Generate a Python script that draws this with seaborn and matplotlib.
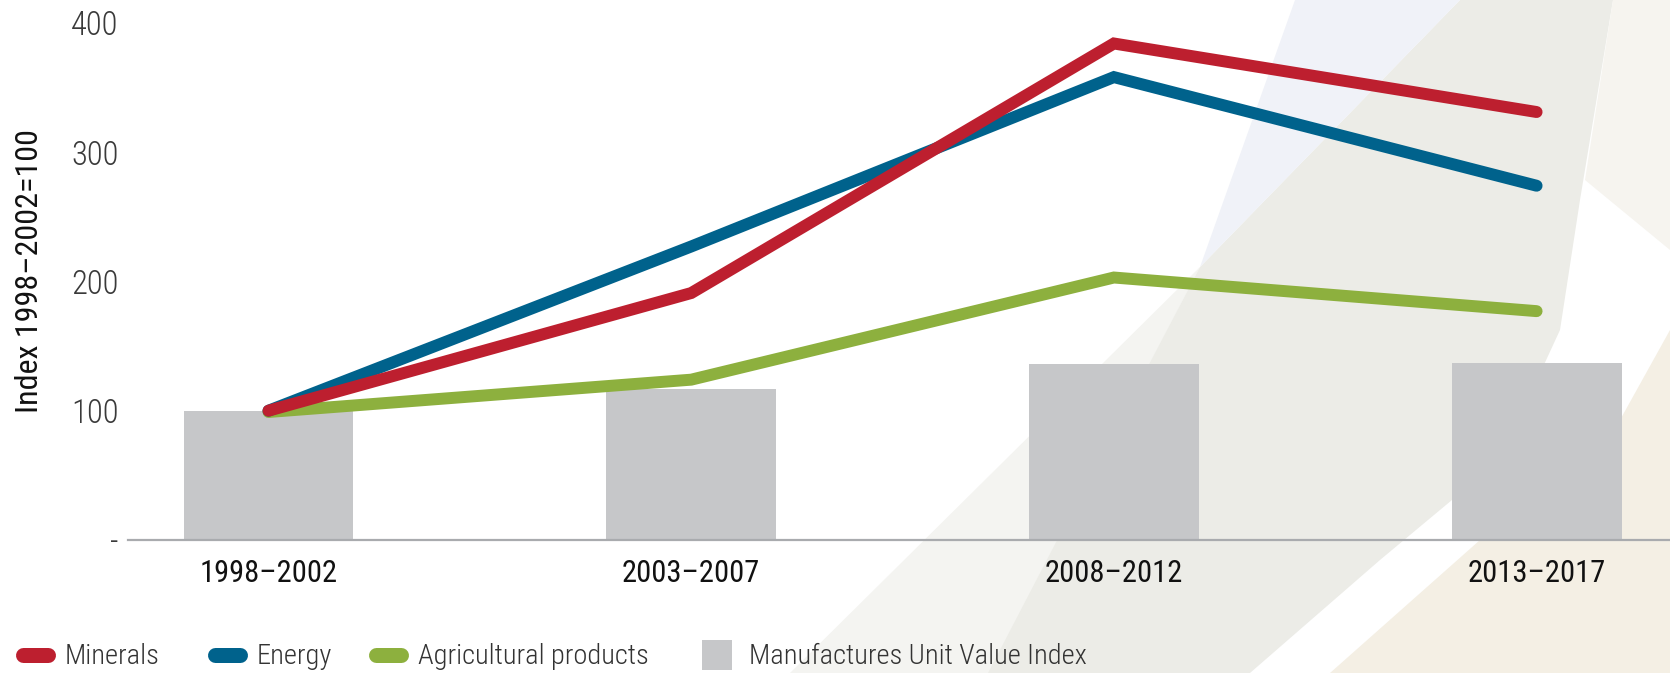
import matplotlib
matplotlib.use("Agg")
import matplotlib.pyplot as plt
from matplotlib.lines import Line2D
from matplotlib.patches import Polygon
import seaborn as sns
import pandas as pd

# ---- data -------------------------------------------------------------
periods = ["1998–2002", "2003–2007", "2008–2012", "2013–2017"]
minerals = [100, 191, 384, 331]
energy = [100, 227, 358, 274]
agricultural = [99, 124, 203, 177]
manufactures = [100, 117, 136, 137]

y_ticks = [0, 100, 200, 300, 400]
y_tick_labels = ["-", "100", "200", "300", "400"]

series_order = ["Agricultural products", "Energy", "Minerals"]  # bottom to top
palette = {"Minerals": "#BD1F2F", "Energy": "#00628C",
           "Agricultural products": "#8DB03E"}
bar_color = "#C6C7C9"
bar_label = "Manufactures Unit Value Index"

# ---- figure -----------------------------------------------------------
W, H = 1670, 673
sns.set_theme(style="white")
plt.rcParams["font.family"] = ["Roboto Condensed", "Sofia Sans Condensed",
                               "DejaVu Sans"]

fig = plt.figure(figsize=(W / 100, H / 100), dpi=100)
fig.patch.set_facecolor("white")


def px(points):
    return [(x / W, 1 - y / H) for x, y in points]


# soft decorative backdrop shapes on the right
backdrop = [
    # faint grey wash
    ("#F4F4F1", [(1200, 267), (990, 673), (790, 673)]),
    # main grey sweep
    ("#ECECE7", [(1460, 0), (1613, 0), (1580, 200), (1560, 330), (1500, 460),
                 (1380, 560), (1250, 673), (988, 673), (1078, 500), (1200, 267)]),
    # pale blue wedge
    ("#F0F2F8", [(1295, 0), (1460, 0), (1200, 267)]),
    # light top-right corner
    ("#F6F4EF", [(1613, 0), (1670, 0), (1670, 250), (1585, 180)]),
    # cream lower right
    ("#F4EFE4", [(1670, 330), (1670, 673), (1330, 673), (1480, 540), (1620, 420)]),
]
for col, pts in backdrop:
    fig.add_artist(Polygon(px(pts), closed=True, facecolor=col, edgecolor="none",
                           transform=fig.transFigure, zorder=-10))

ax = fig.add_axes([128 / W, (H - 540) / H, 1 - 128 / W, 517.2 / H])
ax.set_facecolor("none")

# bars
sns.barplot(x=periods, y=manufactures, color=bar_color, saturation=1,
            width=0.402, linewidth=0, ax=ax)

# lines
lines_df = pd.DataFrame({
    "period": periods * 3,
    "value": minerals + energy + agricultural,
    "series": ["Minerals"] * 4 + ["Energy"] * 4 + ["Agricultural products"] * 4,
})
sns.pointplot(data=lines_df, x="period", y="value", hue="series",
              hue_order=series_order, palette=palette, markers="",
              errorbar=None, legend=False, ax=ax,
              linewidth=8.6, solid_capstyle="round", solid_joinstyle="miter")

ax.set_xlim(-0.3324, 3.3156)
ax.set_ylim(0, 400)
ax.set_yticks(y_ticks)
ax.set_yticklabels(y_tick_labels)
ax.set_xlabel("")
ax.set_ylabel("Index 1998–2002=100", fontsize=23, color="#111111")
ax.yaxis.set_label_coords(-0.0545, 0.521)

for side in ["top", "right", "left"]:
    ax.spines[side].set_visible(False)
ax.spines["bottom"].set_color("#A9ABAE")
ax.spines["bottom"].set_linewidth(1.6)
ax.grid(False)

ax.tick_params(axis="x", length=0, pad=14, labelsize=22, labelcolor="#111111")
ax.tick_params(axis="y", length=0, pad=7, labelsize=23.5, labelcolor="#3A3A3A")
for lbl in ax.get_yticklabels():
    lbl.set_fontweight("light")

# ---- legend -----------------------------------------------------------
legend_y = (H - 657) / H


def legend_item(handle, label, x_px, handlelength):
    fig.legend([handle], [label], loc="center left",
               bbox_to_anchor=(x_px / W, legend_y), frameon=False,
               borderpad=0, borderaxespad=0, handlelength=handlelength,
               handletextpad=0.6, labelcolor="#333333",
               prop={"size": 20.5, "weight": "light"})


for name, x0 in [("Minerals", 22.5), ("Energy", 214.5),
                 ("Agricultural products", 375.5)]:
    legend_item(Line2D([0], [0], color=palette[name], lw=10.8,
                       solid_capstyle="round"), name, x0, 0.88)

legend_item(Line2D([0], [0], marker="s", linestyle="none", markersize=21.6,
                   markerfacecolor=bar_color, markeredgewidth=0),
            bar_label, 701.6, 1.05)

fig.savefig("out.png", dpi=100, facecolor="white")
